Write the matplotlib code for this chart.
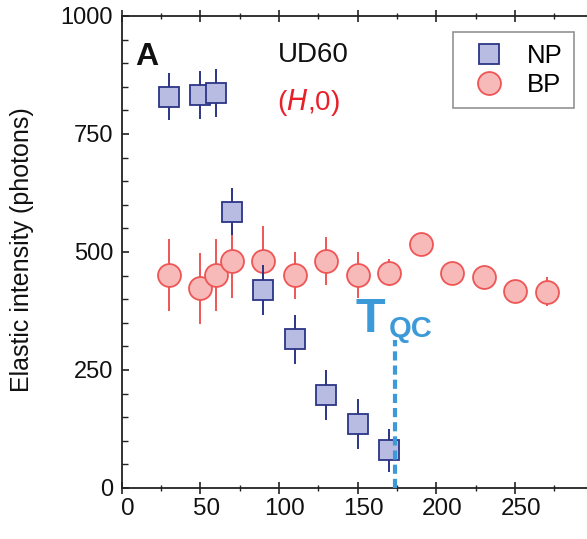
import matplotlib
matplotlib.use("Agg")
import matplotlib.pyplot as plt
from matplotlib.ticker import MultipleLocator
from matplotlib.lines import Line2D
from matplotlib.transforms import ScaledTranslation

plt.rcParams['font.family'] = ['Liberation Sans', 'DejaVu Sans']

# NP (squares)
np_x = [30, 50, 60, 70, 90, 110, 130, 150, 170]
np_y = [829, 833, 836, 585, 419, 315, 198, 136, 80]
np_err = [50, 51, 51, 50, 53, 52, 53, 53, 46]

# BP (circles)
bp_x = [30, 50, 60, 70, 90, 110, 130, 150, 170, 190, 210, 230, 250, 270]
bp_y = [451, 423, 451, 481, 481, 451, 481, 451, 456, 516, 456, 446, 417, 416]
bp_err = [76, 75, 76, 78, 75, 50, 51, 49, 29, 18, 18, 18, 18, 30]

t_qc = 174
t_qc_top = 314

xticks = [0, 50, 100, 150, 200, 250]
yticks = [0, 250, 500, 750, 1000]

fig = plt.figure(figsize=(5.87, 5.39), dpi=100)
ax = fig.add_axes([121.5/587, 1-488/539, 1-121.5/587, (488-16)/539])

sq_face = '#B9BCE2'
sq_edge = '#2B3585'
ci_face = '#F8B9B9'
ci_edge = '#EE5555'

ax.errorbar(bp_x, bp_y, yerr=bp_err, fmt='o', ms=16.5, mfc=ci_face, mec=ci_edge,
            mew=1.3, ecolor=ci_edge, elinewidth=1.4, capsize=0, zorder=2)
ax.errorbar(np_x, np_y, yerr=np_err, fmt='s', ms=15, mfc=sq_face, mec=sq_edge,
            mew=1.3, ecolor=sq_edge, elinewidth=1.4, capsize=0, zorder=3)

ax.plot([t_qc, t_qc], [0, t_qc_top], ls=(0, (2.2, 1.2)), color='#3D9AD8', lw=3, zorder=4)

ax.set_xlim(0, 295.7)
ax.set_ylim(0, 1000)
ax.set_xticks(xticks)
ax.set_yticks(yticks)
ax.xaxis.set_minor_locator(MultipleLocator(25))
ax.yaxis.set_minor_locator(MultipleLocator(50))
ax.tick_params(axis='x', which='major', direction='inout', length=9, width=1.2,
               labelsize=17.5, pad=3, top=True, colors='#222222', labelcolor='#111111')
ax.tick_params(axis='x', which='minor', direction='inout', length=5, width=1.0, top=True,
               colors='#222222')
ax.tick_params(axis='y', which='major', direction='in', length=5, width=1.2,
               labelsize=17, pad=6, colors='#222222', labelcolor='#111111')
ax.tick_params(axis='y', which='minor', direction='in', length=4, width=1.0, colors='#222222')
for s in ['left', 'bottom', 'top']:
    ax.spines[s].set_linewidth(1.3)
    ax.spines[s].set_color('#222222')
ax.spines['right'].set_visible(False)

shift = ScaledTranslation(6 / 100, 0, fig.dpi_scale_trans)
for lab in ax.get_xticklabels():
    lab.set_transform(lab.get_transform() + shift)

ax.set_ylabel('Elastic intensity (photons)', fontsize=18, color='#111111')
ax.yaxis.set_label_coords((34 - 121.5) / (587 - 121.5), (488 - 250) / 472)

ax.text(0.03, 0.945, 'A', transform=ax.transAxes, fontsize=23, fontweight='heavy',
        ha='left', va='top', color='#111111')
ax.text(0.335, 0.945, 'UD60', transform=ax.transAxes, fontsize=20, ha='left', va='top',
        color='#111111')
ax.text(0.335, 0.85, r'($\mathit{H}$,0)', transform=ax.transAxes, fontsize=20, ha='left',
        va='top', color='#E8202A')

ax.text(158, 330, 'T', fontsize=35, fontweight='bold', color='#3D9AD8', ha='center',
        va='baseline', zorder=5)
ax.text(170, 320, 'QC', fontsize=21, fontweight='bold', color='#3D9AD8', ha='left',
        va='baseline', zorder=5)

handles = [Line2D([], [], ls='none', marker='s', ms=15, mfc=sq_face, mec=sq_edge, mew=1.3),
           Line2D([], [], ls='none', marker='o', ms=16.5, mfc=ci_face, mec=ci_edge, mew=1.3)]
leg = ax.legend(handles, ['NP', 'BP'], loc='upper right',
                bbox_to_anchor=((574 - 121.5) / (587 - 121.5), (488 - 32) / 472),
                fontsize=18.5, frameon=True, fancybox=False, edgecolor='#777777',
                handletextpad=0.5, borderpad=0.45, labelspacing=0.2, handlelength=1.9,
                borderaxespad=0)
leg.get_frame().set_linewidth(1.2)

fig.savefig('out.png', dpi=100)
